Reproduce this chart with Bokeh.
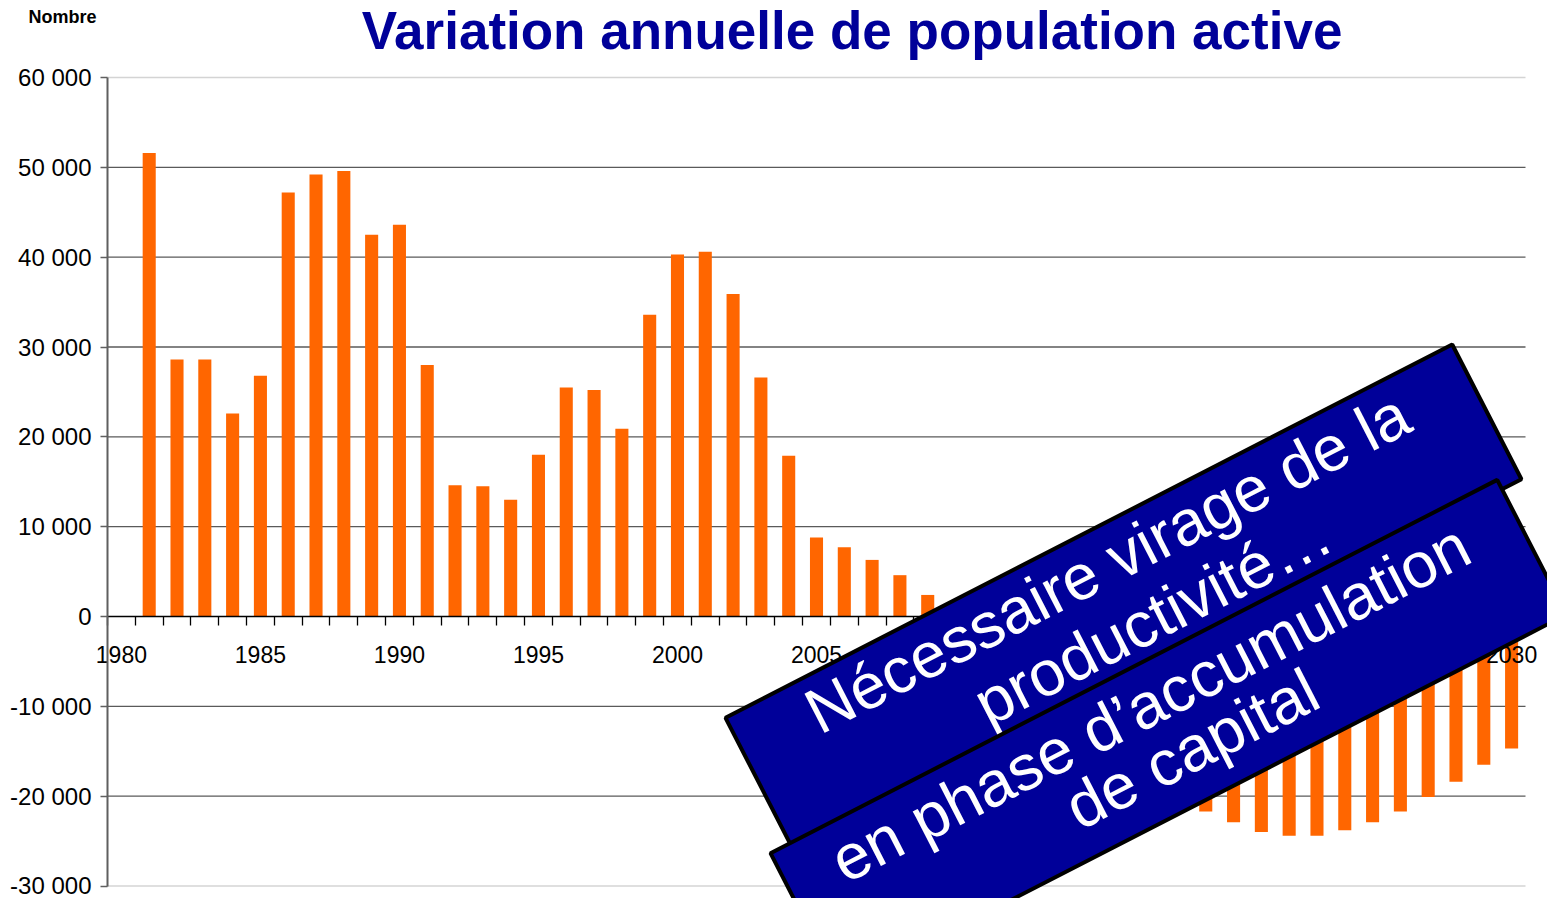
import math
from bokeh.plotting import figure
from bokeh.models import Range1d, FixedTicker
from bokeh.core.properties import value
from bokeh.embed import file_html
from bokeh.resources import INLINE

# ---------------- data ----------------
categories = list(range(1980, 2031))
bar_years = list(range(1981, 2031))
variation = [51600, 28600, 28600, 22600, 26800, 47200, 49200, 49600, 42500, 43600,
             28000, 14600, 14500, 13000, 18000, 25500, 25200, 20900, 33600, 40300,
             40600, 35900, 26600, 17900, 8800, 7700, 6300, 4600, 2400, 0,
             -2600, -5000, -7500, -10000, -12500, -15000, -17300, -19600, -21700, -22900,
             -24000, -24400, -24400, -23800, -22900, -21700, -20100, -18400, -16500, -14700]
x_label_years = [1980, 1985, 1990, 1995, 2000, 2005, 2010, 2015, 2020, 2025, 2030]
x_tick_labels = ["1980", "1985", "1990", "1995", "2000", "2005", "2010", "2015", "2020", "2025", "2030"]
y_ticks = [-30000, -20000, -10000, 0, 10000, 20000, 30000, 40000, 50000, 60000]
y_tick_labels = ["-30 000", "-20 000", "-10 000", "0", "10 000", "20 000", "30 000", "40 000", "50 000", "60 000"]
title_text = "Variation annuelle de population active"
unit_text = "Nombre"
banner1_lines = ["Nécessaire virage de la", "productivité…"]
banner2_lines = ["en phase d’accumulation", "de capital"]

# ---------------- layout (pixels on the page; the frame fills the page) ----------------
PAGE_W, PAGE_H = 1547, 898
AXIS_X, TOP_Y, ZERO_Y = 107, 77, 616     # page px of the value axis, of 60 000 and of 0
PX_PER_CAT = 27.804
PX_PER_UNIT = (ZERO_Y - TOP_Y) / float(y_ticks[-1])
cat_lo = categories[0] - 0.5
cat_hi = categories[-1] + 0.5
x_start = cat_lo - AXIS_X / PX_PER_CAT
x_end = x_start + PAGE_W / PX_PER_CAT
y_end = y_ticks[-1] + TOP_Y / PX_PER_UNIT
y_start = y_end - PAGE_H / PX_PER_UNIT


def dx(X):
    return x_start + X / PX_PER_CAT


def dy(Y):
    return y_end - Y / PX_PER_UNIT


FONT = "Liberation Sans"
BLUE = "#000099"
ORANGE = "#FF6600"

p = figure(width=PAGE_W, height=PAGE_H, x_range=Range1d(x_start, x_end),
           y_range=Range1d(y_start, y_end), output_backend="svg",
           toolbar_location=None, min_border=0, min_border_left=0,
           min_border_right=0, min_border_top=0, min_border_bottom=0)
p.outline_line_color = None
p.grid.visible = False

# value axis drawn at the left edge of the category range
yax = p.yaxis[0]
yax.fixed_location = cat_lo
yax.ticker = FixedTicker(ticks=y_ticks, minor_ticks=[])
yax.major_label_overrides = {t: l for t, l in zip(y_ticks, y_tick_labels)}
yax.bounds = (y_ticks[0], y_ticks[-1])
yax.major_tick_in = 0
yax.major_tick_out = 7
yax.minor_tick_in = 0
yax.minor_tick_out = 0
yax.axis_line_color = "#5f5f5f"
yax.axis_line_width = 2
yax.major_tick_line_color = "#5f5f5f"
yax.major_tick_line_width = 1.5
yax.major_label_text_font = FONT
yax.major_label_text_font_size = "24px"
yax.major_label_text_color = "black"
yax.major_label_standoff = 9

# category axis drawn at zero
boundaries = [c - 0.5 for c in categories] + [categories[-1] + 0.5]
xax = p.xaxis[0]
xax.fixed_location = 0
xax.ticker = FixedTicker(ticks=x_label_years, minor_ticks=boundaries)
xax.major_label_overrides = {t: l for t, l in zip(x_label_years, x_tick_labels)}
xax.bounds = (cat_lo, cat_hi)
xax.major_tick_in = 0
xax.major_tick_out = 0
xax.minor_tick_in = 0
xax.minor_tick_out = 9
xax.axis_line_color = "black"
xax.axis_line_width = 1.6
xax.minor_tick_line_color = "black"
xax.minor_tick_line_width = 1.3
xax.major_label_text_font = FONT
xax.major_label_text_font_size = "23px"
xax.major_label_text_color = "black"
xax.major_label_standoff = 20

# gridlines over the category range only
dark = [t for t in y_ticks if t not in (0, y_ticks[0], y_ticks[-1])]
p.segment(x0=[cat_lo] * len(dark), x1=[cat_hi] * len(dark), y0=dark, y1=dark,
          line_color="#5a5a5a", line_width=1.3, level="underlay")
light = [y_ticks[0], y_ticks[-1]]
p.segment(x0=[cat_lo] * 2, x1=[cat_hi] * 2, y0=light, y1=light,
          line_color="#d4d4d4", line_width=1.3, level="underlay")

# bars
p.vbar(x=bar_years, top=variation, bottom=0, width=0.47,
       fill_color=ORANGE, line_color=None)

# title and unit (text box centred on the given point)
p.text(x=[dx(851.5)], y=[dy(29.8)], text=[title_text], text_align="center",
       text_baseline="middle", text_font=value(FONT), text_font_size="53px",
       text_font_style="bold", text_color=BLUE)
p.text(x=[dx(28)], y=[dy(16.8)], text=[unit_text], text_align="left",
       text_baseline="middle", text_font=value(FONT), text_font_size="18px",
       text_font_style="bold", text_color="black")

# banners (drawn above the axes)
ang = math.radians(27.19)
u = (math.cos(ang), -math.sin(ang))
v = (math.sin(ang), math.cos(ang))
B_LEN, B_WID = 817.0, 151.5


def banner(L):
    pts = [L,
           (L[0] + B_LEN * u[0], L[1] + B_LEN * u[1]),
           (L[0] + B_LEN * u[0] + B_WID * v[0], L[1] + B_LEN * u[1] + B_WID * v[1]),
           (L[0] + B_WID * v[0], L[1] + B_WID * v[1])]
    return [dx(a) for a, b in pts], [dy(b) for a, b in pts]


def center(L, along, perp):
    a = B_LEN / 2 + along
    b = B_WID / 2 + perp
    return (L[0] + a * u[0] + b * v[0], L[1] + a * u[1] + b * v[1])


for L, lines, offs in [((725.0, 717.3), banner1_lines, [(2, -39), (17, 31)]),
                       ((770.0, 852.7), banner2_lines, [(-2, -36), (14, 24)])]:
    bx, by = banner(L)
    p.patch(x=bx, y=by, fill_color=BLUE, line_color="black", line_width=4,
            level="overlay")
    for line, (al, pe) in zip(lines, offs):
        cx, cy = center(L, al, pe)
        p.text(x=[dx(cx)], y=[dy(cy)], text=[line], angle=ang,
               text_align="center", text_baseline="middle",
               text_font=value(FONT), text_font_size="64px", text_color="white",
               level="overlay")

open("out.html", "w").write(file_html(p, INLINE))
